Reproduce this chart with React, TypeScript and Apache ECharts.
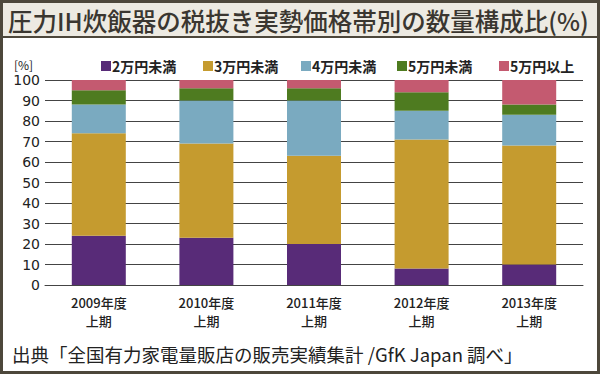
import React, { useEffect, useRef } from "react";
import * as echarts from "echarts";

const categories = ["2009年度\n上期", "2010年度\n上期", "2011年度\n上期", "2012年度\n上期", "2013年度\n上期"];
const seriesNames = ["2万円未満", "3万円未満", "4万円未満", "5万円未満", "5万円以上"];
const under20k = [24, 23, 20, 8, 10];
const under30k = [50, 46, 43, 63, 58];
const under40k = [14, 21, 27, 14, 15];
const under50k = [7, 6, 6, 9, 5];
const over50k = [5, 4, 4, 6, 12];
const colors = ["#582b78", "#c59b2f", "#7aaac0", "#4e7b20", "#c45a70"];
const yTicks = [0, 10, 20, 30, 40, 50, 60, 70, 80, 90, 100];
const legendLeft = [101, 203, 301, 397, 499];

const title = "圧力IH炊飯器の税抜き実勢価格帯別の数量構成比(%)";
const source = "出典「全国有力家電量販店の販売実績集計 /GfK Japan 調べ」";

const FONT = "'Noto Sans CJK JP', 'Noto Sans', sans-serif";

export default function App() {
  const ref = useRef<HTMLDivElement>(null);
  useEffect(() => {
    document.body.style.margin = "0";
    const chart = echarts.init(ref.current!, null, { renderer: "svg" });
    const values = [under20k, under30k, under40k, under50k, over50k];
    chart.setOption({
      animation: false,
      backgroundColor: "#ffffff",
      textStyle: { fontFamily: FONT },
      legend: seriesNames.map((name, i) => ({
        left: legendLeft[i],
        top: 59,
        itemWidth: 10,
        itemHeight: 10,
        icon: "rect",
        padding: 0,
        textStyle: { fontSize: 14, fontWeight: "bold", color: "#222", fontFamily: FONT, padding: [0, 0, 0, -4] },
        data: [name],
      })),
      grid: { left: 45, right: 17, top: 80, bottom: 89, containLabel: false },
      xAxis: {
        type: "category",
        data: categories,
        axisLine: { lineStyle: { color: "#444", width: 1 } },
        axisTick: { show: false },
        axisLabel: { fontSize: 13, fontWeight: 500, color: "#222", lineHeight: 18, margin: 8, fontFamily: FONT },
      },
      yAxis: {
        type: "value",
        min: 0,
        max: 100,
        interval: 10,
        axisLine: { show: false },
        axisTick: { show: false },
        splitLine: { lineStyle: { color: "#444", width: 1 } },
        axisLabel: {
          fontSize: 14,
          color: "#222",
          margin: 5,
          fontFamily: "'DejaVu Sans', sans-serif",
          formatter: (v: number) => (yTicks.includes(v) ? String(v) : ""),
        },
      },
      series: seriesNames.map((name, i) => ({
        name,
        type: "bar",
        stack: "total",
        barWidth: 54,
        data: values[i],
        itemStyle: { color: colors[i] },
      })),
      graphic: [
        {
          type: "rect",
          shape: { x: 0, y: 0, width: 600, height: 37 },
          style: { fill: "#edeae2" },
          silent: true,
        },
        {
          type: "line",
          shape: { x1: 0, y1: 37, x2: 600, y2: 37 },
          style: { stroke: "#4d473b", lineWidth: 2 },
        },
        {
          type: "rect",
          shape: { x: 1.5, y: 1.5, width: 597, height: 371 },
          style: { fill: "none", stroke: "#4d473b", lineWidth: 3 },
        },
        {
          type: "text",
          x: 8,
          y: 20,
          style: {
            text: title,
            font: `500 24.5px ${FONT}`,
            fill: "#3a3630",
            textVerticalAlign: "middle",
          },
        },
        {
          type: "text",
          x: 14,
          y: 64,
          style: { text: "[%]", font: `12px ${FONT}`, fill: "#222", textVerticalAlign: "middle" },
        },
        {
          type: "text",
          x: 12,
          y: 354,
          style: { text: source, font: `18.5px ${FONT}`, fill: "#222", textVerticalAlign: "middle" },
        },
      ],
    });
    return () => chart.dispose();
  }, []);
  return <div ref={ref} style={{ width: 600, height: 374 }} />;
}
